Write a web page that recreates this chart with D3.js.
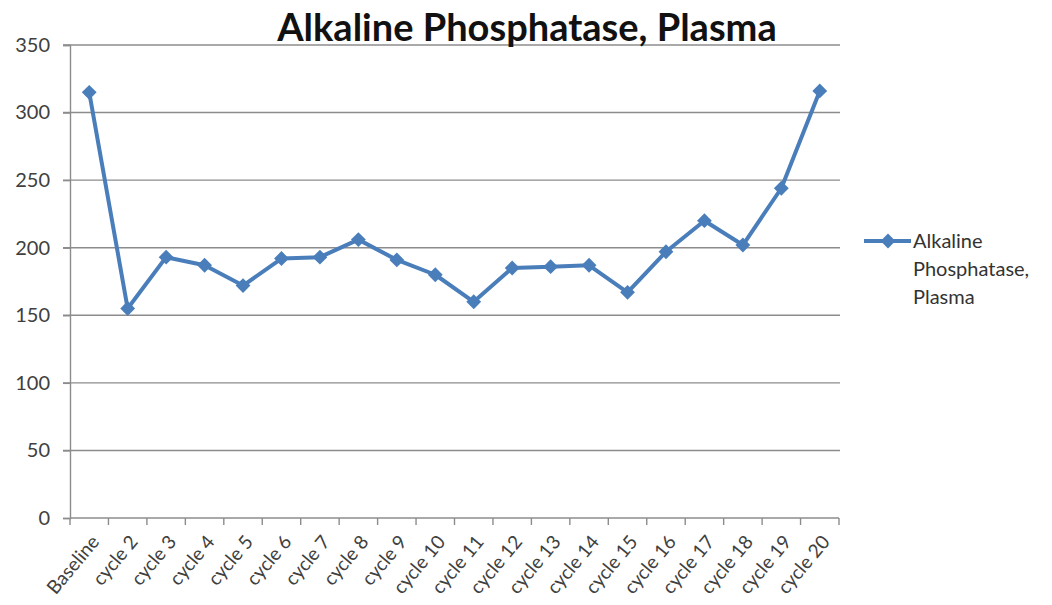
<!DOCTYPE html>
<html>
<head>
<meta charset="utf-8">
<script src="https://cdn.jsdelivr.net/npm/d3@7"></script>
<style>
  body { margin: 0; background: #fff; }
  text { font-family: Lato, "Open Sans", sans-serif; }
</style>
</head>
<body>
<script>
// categories along the x axis
const categories = ['Baseline', 'cycle 2', 'cycle 3', 'cycle 4', 'cycle 5', 'cycle 6', 'cycle 7',
    'cycle 8', 'cycle 9', 'cycle 10', 'cycle 11', 'cycle 12', 'cycle 13', 'cycle 14',
    'cycle 15', 'cycle 16', 'cycle 17', 'cycle 18', 'cycle 19', 'cycle 20']

// values
const values = [315, 155, 193, 187, 172, 192, 193, 206, 191, 180,
    160, 185, 186, 187, 167, 197, 220, 202, 244, 316]

const yTicks = [0, 50, 100, 150, 200, 250, 300, 350]
const seriesName = 'Alkaline Phosphatase, Plasma'
const legendLines = ['Alkaline', 'Phosphatase,', 'Plasma']

const m = { width: 1052, height: 605 }
const plot = { left: 70, right: 839, top: 45, bottom: 518 }
const blue = '#4a7ebb'

const svg = d3.select('body').append('svg')
    .attr('width', m.width)
    .attr('height', m.height)

const x = d3.scaleBand()
    .domain(categories)
    .range([plot.left, plot.right])

const y = d3.scaleLinear()
    .domain([0, 350])
    .range([plot.bottom, plot.top])

// gridlines
svg.append('g')
    .selectAll('line')
    .data(yTicks.filter(d => d > 0))
    .enter()
    .append('line')
        .attr('x1', plot.left - 7)
        .attr('x2', plot.right + 1)
        .attr('y1', d => y(d))
        .attr('y2', d => y(d))
        .attr('stroke', '#8c8c8c')
        .attr('stroke-width', 1.4)

// y axis
const yAxis = svg.append('g')
    .attr('transform', `translate(${plot.left},0)`)
    .call(d3.axisLeft(y).tickValues(yTicks).tickSize(7).tickPadding(13))
yAxis.select('.domain').attr('stroke', '#8c8c8c').attr('stroke-width', 1.4)
yAxis.selectAll('.tick line').attr('stroke', '#8c8c8c').attr('stroke-width', 1.4)
yAxis.selectAll('.tick text')
    .attr('font-size', 20)
    .attr('fill', '#404040')
    .style('font-family', 'Lato, sans-serif')

// x axis: ticks sit on band edges
const xAxis = svg.append('g')
    .attr('transform', `translate(0,${plot.bottom})`)
xAxis.append('line')
    .attr('x1', plot.left).attr('x2', plot.right)
    .attr('stroke', '#8c8c8c').attr('stroke-width', 1.4)
const edges = categories.map(c => x(c)).concat([plot.right])
xAxis.selectAll('.edge')
    .data(edges)
    .enter()
    .append('line')
        .attr('x1', d => d).attr('x2', d => d)
        .attr('y1', 0).attr('y2', 7)
        .attr('stroke', '#8c8c8c').attr('stroke-width', 1.4)
xAxis.selectAll('.lbl')
    .data(categories)
    .enter()
    .append('text')
        .attr('transform', d => `translate(${x(d) + x.bandwidth() / 2 + 6},${20}) rotate(-50)`)
        .attr('text-anchor', 'end')
        .attr('dy', '0.35em')
        .attr('font-size', 19)
        .attr('fill', '#404040')
        .text(d => d)

// series line
const line = d3.line()
    .x((d, i) => x(categories[i]) + x.bandwidth() / 2)
    .y(d => y(d))

svg.append('path')
    .datum(values)
    .attr('d', line)
    .attr('fill', 'none')
    .attr('stroke', blue)
    .attr('stroke-width', 4)
    .attr('stroke-linejoin', 'round')

const diamond = d3.symbol().type(d3.symbolDiamond2).size(140)
svg.append('g')
    .selectAll('path')
    .data(values)
    .enter()
    .append('path')
        .attr('transform', (d, i) => `translate(${x(categories[i]) + x.bandwidth() / 2},${y(d)})`)
        .attr('d', diamond)
        .attr('fill', blue)

// title
svg.append('text')
    .attr('x', 527)
    .attr('y', 41)
    .attr('text-anchor', 'middle')
    .attr('font-size', 38)
    .attr('font-weight', 'bold')
    .attr('fill', '#111')
    .text(seriesName)

// legend
const lg = svg.append('g')
lg.append('line')
    .attr('x1', 864).attr('x2', 911)
    .attr('y1', 241).attr('y2', 241)
    .attr('stroke', blue).attr('stroke-width', 4)
lg.append('path')
    .attr('transform', 'translate(888,241)')
    .attr('d', diamond)
    .attr('fill', blue)
lg.selectAll('text')
    .data(legendLines)
    .enter()
    .append('text')
        .attr('x', 913)
        .attr('y', (d, i) => 248 + i * 28)
        .attr('font-size', 20)
        .attr('fill', '#333')
        .text(d => d)
</script>
</body>
</html>
